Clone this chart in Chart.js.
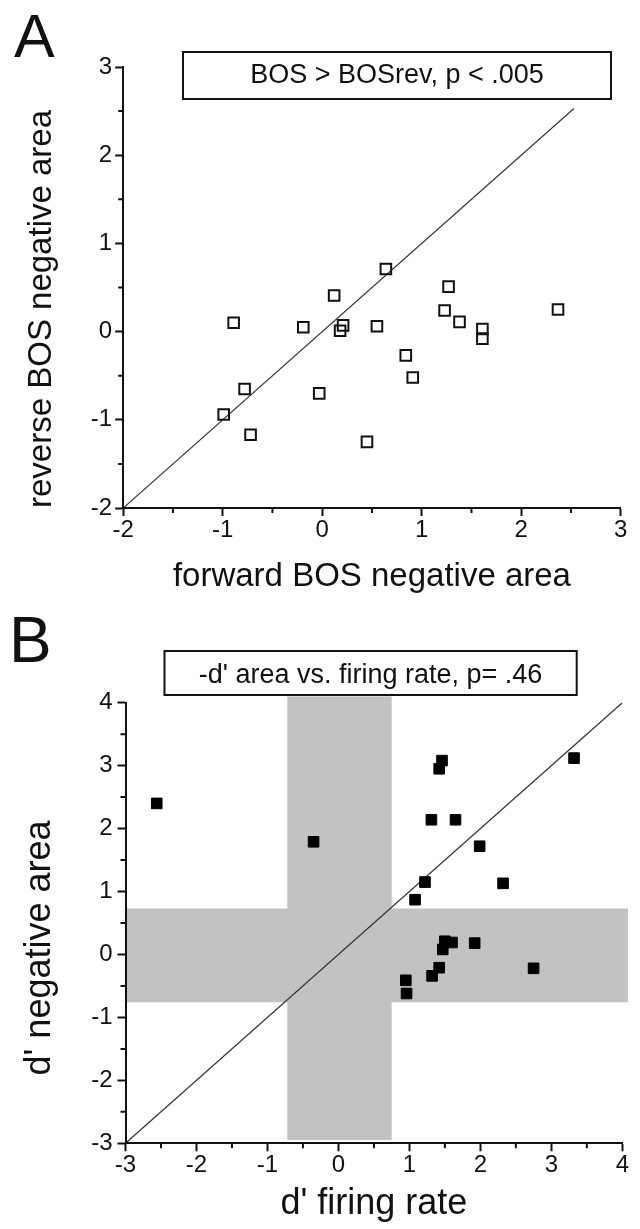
<!DOCTYPE html>
<html>
<head>
<meta charset="utf-8">
<script src="https://cdn.jsdelivr.net/npm/chart.js@4.4.1/dist/chart.umd.min.js"></script>
<style>
  html, body { margin: 0; padding: 0; background: #fff; }
  body { width: 640px; height: 1229px; position: relative; overflow: hidden; }
  canvas { position: absolute; left: 0; }
  #chartA { top: 0; }
  #chartB { top: 600px; }
</style>
</head>
<body>
<canvas id="chartA" width="640" height="610"></canvas>
<canvas id="chartB" width="640" height="629"></canvas>
<script>
/* ---------------- PANEL A data ---------------- */
const forwardBOS = [-0.89, -0.19, 0.12, 0.64, 0.21, 0.18, 0.55, 0.84, 1.27, 1.23,
                    1.38, 1.61, 1.61, 2.37, 0.91, -0.78, -0.03, -0.99, -0.72, 0.45];
const reverseBOS = [0.10, 0.05, 0.41, 0.71, 0.07, 0.01, 0.06, -0.27, 0.51, 0.24,
                    0.11, 0.03, -0.08, 0.25, -0.52, -0.65, -0.70, -0.94, -1.17, -1.25];
const unityA = [-2, 2.53];
const ticksA = [-2, -1, 0, 1, 2, 3];
const statA = "BOS > BOSrev, p < .005";

/* ---------------- PANEL B data ---------------- */
const dFiring = [-2.56, -0.35, 1.46, 1.42, 1.31, 1.65, 3.32, 1.99, 1.22, 2.32,
                 1.08, 1.50, 1.60, 1.47, 1.92, 1.42, 1.32, 2.75, 0.95, 0.96];
const dNegArea = [2.40, 1.79, 3.08, 2.95, 2.14, 2.14, 3.12, 1.72, 1.15, 1.13,
                  0.87, 0.21, 0.19, 0.08, 0.18, -0.21, -0.34, -0.22, -0.41, -0.62];
const unityB = [-3, 4];
const ticksB = [-3, -2, -1, 0, 1, 2, 3, 4];
// grey "not significant" bands
const vBandX = [-0.72, 0.75];
const vBandY = [-2.95, 4.1];
const hBandX = [-2.98, 4.08];
const hBandY = [-0.76, 0.73];
const statB = "-d' area vs. firing rate, p= .46";

Chart.defaults.font.family = "'Liberation Sans', Arial, sans-serif";
Chart.defaults.color = "#111";

const zip = (xs, ys) => xs.map((x, i) => ({ x, y: ys[i] }));

function axis(ticks, pad, fit, title) {
  return {
    type: "linear",
    min: ticks[0],
    max: ticks[ticks.length - 1],
    afterBuildTicks: (s) => { s.ticks = ticks.map((v) => ({ value: v })); },
    afterFit: fit,
    border: { display: true, color: "#111", width: 2, z: 1 },
    grid: { drawOnChartArea: false, drawTicks: true, tickLength: 8, tickWidth: 2, tickColor: "#111" },
    ticks: { color: "#111", font: { size: 24 }, padding: pad, callback: (v) => String(v) },
    title: Object.assign({ display: true, color: "#111" }, title),
  };
}

// half-unit minor ticks
const minorTicks = {
  id: "minorTicks",
  afterDraw(chart) {
    const { ctx, chartArea: a, scales: { x, y } } = chart;
    ctx.save();
    ctx.strokeStyle = "#111";
    ctx.lineWidth = 2;
    ctx.beginPath();
    x.ticks.slice(1).forEach((t, i) => {
      const px = x.getPixelForValue((t.value + x.ticks[i].value) / 2);
      ctx.moveTo(px, a.bottom); ctx.lineTo(px, a.bottom + 5);
    });
    y.ticks.slice(1).forEach((t, i) => {
      const py = y.getPixelForValue((t.value + y.ticks[i].value) / 2);
      ctx.moveTo(a.left - 5, py); ctx.lineTo(a.left, py);
    });
    ctx.stroke();
    ctx.restore();
  },
};

// panel letter + boxed statistic
function decor(letter, lx, ly, lsize, box, text, textX, textY) {
  return {
    id: "decor",
    afterDraw(chart) {
      const ctx = chart.ctx;
      ctx.save();
      ctx.fillStyle = "#111";
      ctx.font = lsize + "px 'Liberation Sans', Arial, sans-serif";
      ctx.textAlign = "left";
      ctx.textBaseline = "alphabetic";
      ctx.fillText(letter, lx, ly);
      ctx.fillStyle = "#fff";
      ctx.fillRect(box[0], box[1], box[2] - box[0], box[3] - box[1]);
      ctx.strokeStyle = "#111";
      ctx.lineWidth = 2;
      ctx.strokeRect(box[0], box[1], box[2] - box[0], box[3] - box[1]);
      ctx.fillStyle = "#111";
      ctx.font = "27px 'Liberation Sans', Arial, sans-serif";
      ctx.textAlign = "center";
      ctx.fillText(text, textX, textY);
      ctx.restore();
    },
  };
}

const bands = {
  id: "bands",
  beforeDatasetsDraw(chart) {
    const { ctx, scales: { x, y } } = chart;
    const rect = (xs, ys) => {
      const x0 = x.getPixelForValue(xs[0]), x1 = x.getPixelForValue(xs[1]);
      const y0 = y.getPixelForValue(ys[1]), y1 = y.getPixelForValue(ys[0]);
      ctx.fillRect(x0, y0, x1 - x0, y1 - y0);
    };
    ctx.save();
    ctx.fillStyle = "#c2c2c2";
    rect(vBandX, vBandY);
    rect(hBandX, hBandY);
    ctx.restore();
  },
};

const common = {
  responsive: false,
  animation: false,
  devicePixelRatio: 1,
  events: [],
  plugins: { legend: { display: false }, tooltip: { enabled: false } },
};

/* ---------------- PANEL A ---------------- */
new Chart(document.getElementById("chartA"), {
  type: "scatter",
  data: {
    datasets: [
      {
        data: zip(forwardBOS, reverseBOS),
        pointStyle: "rect",
        pointRadius: 7.5,
        borderWidth: 2,
        borderColor: "#111",
        backgroundColor: "rgba(0,0,0,0)",
      },
      {
        data: zip(unityA, unityA),
        showLine: true,
        pointRadius: 0,
        borderColor: "#333",
        borderWidth: 1.2,
      },
    ],
  },
  options: Object.assign({}, common, {
    layout: { padding: { left: 0, right: 19.3, top: 67, bottom: 0 } },
    scales: {
      x: axis(ticksA, 0, (s) => { s.height = 102; },
        { text: "forward BOS negative area", font: { size: 33 }, padding: { top: 0, bottom: 13.7 } }),
      y: axis(ticksA, 3, (s) => { s.width = 123.2; },
        { text: "reverse BOS negative area", align: "start", font: { size: 33 }, padding: { top: 21.8, bottom: 0 } }),
    },
  }),
  plugins: [minorTicks, decor("A", 14, 57, 61, [183, 52, 611, 99], statA, 397, 83.3)],
});

/* ---------------- PANEL B ---------------- */
new Chart(document.getElementById("chartB"), {
  type: "scatter",
  data: {
    datasets: [
      {
        data: zip(dFiring, dNegArea),
        pointStyle: "rect",
        pointRadius: 7.5,
        borderWidth: 1,
        borderColor: "#000",
        backgroundColor: "#000",
      },
      {
        data: zip(unityB, unityB),
        showLine: true,
        pointRadius: 0,
        borderColor: "#333",
        borderWidth: 1.2,
      },
    ],
  },
  options: Object.assign({}, common, {
    layout: { padding: { left: 0, right: 17.7, top: 102.7, bottom: 0 } },
    scales: {
      x: axis(ticksB, 0, (s) => { s.height = 85.7; },
        { text: "d' firing rate", font: { size: 36 }, padding: { top: 0, bottom: 3.2 } }),
      y: axis(ticksB, 5, (s) => { s.width = 125.5; },
        { text: "d' negative area\u00a0\u00a0\u00a0\u00a0\u00a0", font: { size: 36 }, padding: { top: 18.9, bottom: 0 } }),
    },
  }),
  plugins: [bands, minorTicks, decor("B", 9, 62, 64, [164.5, 51, 576.7, 95], statB, 370.6, 83.3)],
});
</script>
</body>
</html>
